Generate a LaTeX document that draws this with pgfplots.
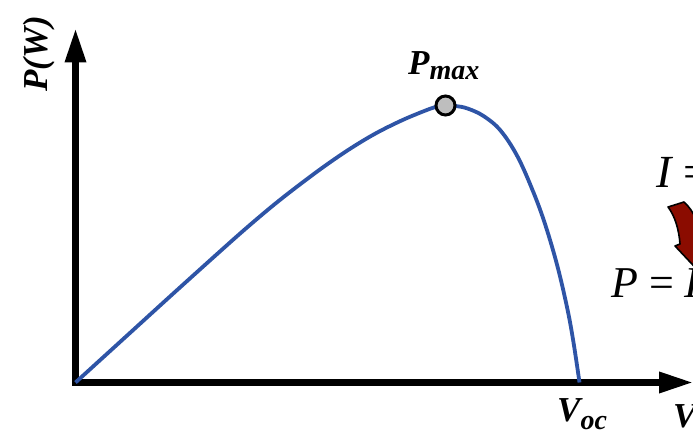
\documentclass[border=0pt]{standalone}
\usepackage{pgfplots}
\pgfplotsset{compat=1.18}
\usetikzlibrary{arrows.meta}
\usepackage{fontspec}
\setmainfont{Liberation Serif}

\definecolor{curveblue}{RGB}{46,84,166}
\definecolor{arrowred}{RGB}{139,12,0}
\definecolor{markgray}{RGB}{190,190,190}

\begin{document}
\begin{tikzpicture}[x=1pt,y=1pt]
% page frame
\path[use as bounding box, clip] (0,0) rectangle (693,435);

\begin{axis}[
  at={(75.5pt,52.5pt)}, anchor=origin,
  x=1pt, y=1pt,
  xmin=0, xmax=617.5, ymin=0, ymax=354,
  axis lines=left,
  xtick=\empty, ytick=\empty,
  axis line style={line width=6.5pt, line cap=rect, -{Triangle[length=34pt,width=20pt]}},
  clip=false,
]
% P-V characteristic
\addplot[curveblue, line width=3.8pt, smooth, tension=0.6] coordinates {
  (0,0) (50,45.5) (100,91) (150,136) (175,158) (200,179) (225,198.5)
  (250,217) (275,234) (300,249) (325,261.5) (345,270) (360,275.5)
  (370,277) (380,276.5) (392,274) (408,266.5) (425,252) (442,226)
  (458,190) (470,157) (482,116) (492,73) (498,40) (504,0)
};
% maximum power point
\addplot[only marks, mark=*, mark size=9.5pt,
  mark options={fill=markgray, draw=black, line width=3pt}] coordinates {(370,277)};
\end{axis}

% axis labels
\node[rotate=90, anchor=base west, inner sep=0pt] at (47,343)
  {\fontsize{35}{40}\selectfont\bfseries\itshape P(W)};
\node[anchor=base west, inner sep=0pt] at (408,360)
  {\fontsize{35}{40}\selectfont\bfseries\itshape P\raisebox{-5pt}{\fontsize{28}{30}\selectfont max}};
\node[anchor=base west, inner sep=0pt] at (557,13)
  {\fontsize{35}{40}\selectfont\bfseries\itshape V\raisebox{-8pt}{\fontsize{28}{30}\selectfont oc}};
\node[anchor=base west, inner sep=0pt] at (673,7)
  {\fontsize{35}{40}\selectfont\bfseries\itshape V(V)};

% relations on the right
\node[anchor=base west, inner sep=0pt] at (656,247)
  {\fontsize{46}{50}\selectfont\itshape I\upshape\ = f(V)};
\node[anchor=base west, inner sep=0pt] at (611,137)
  {\fontsize{44}{50}\selectfont\itshape P\upshape\ = \itshape I\upshape\,$\cdot$\,\itshape V};
\draw[fill=arrowred, line width=1.6pt, line join=round]
  (668,228) .. controls (675,219) and (679,205) .. (680,191)
  -- (675,189) -- (706,156) -- (720,196) -- (702,193)
  .. controls (700,210) and (694,224) .. (684,233) -- cycle;
\end{tikzpicture}
\end{document}
